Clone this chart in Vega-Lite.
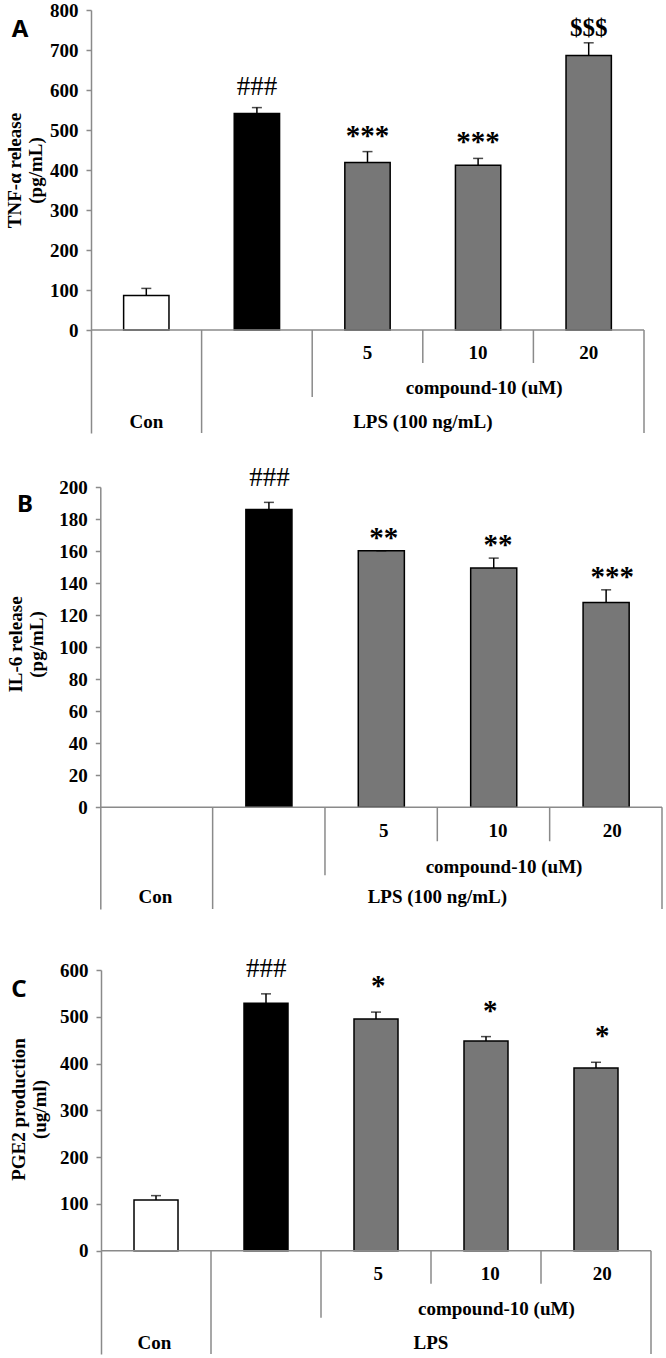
{
  "$schema": "https://vega.github.io/schema/vega-lite/v6.json",
  "padding": {"left": 5, "top": 1, "right": 4, "bottom": 0},
  "background": "white",
  "spacing": 44,
  "config": {
    "view": {"stroke": null},
    "font": "Liberation Serif",
    "axis": {
      "labelFont": "Liberation Serif", "labelFontWeight": "bold", "labelFontSize": 19, "labelColor": "#000",
      "tickColor": "#8a8a8a", "domainColor": "#8a8a8a", "tickWidth": 1.5, "domainWidth": 1.5, "tickSize": 5,
      "labelPadding": 8, "grid": false,
      "titleFont": "Liberation Serif", "titleFontWeight": "bold", "titleFontSize": 19, "titleColor": "#000", "titleLineHeight": 21
    }
  },
  "datasets": {
    "A": [
      {"group": "Con", "value": 86, "upper": 104, "sig": ""},
      {"group": "LPS", "value": 541, "upper": 556, "sig": "###"},
      {"group": "5", "value": 419, "upper": 446, "sig": "***"},
      {"group": "10", "value": 412, "upper": 429, "sig": "***"},
      {"group": "20", "value": 686, "upper": 718, "sig": "$$$"}
    ],
    "B": [
      {"group": "LPS", "value": 186, "upper": 190.4, "sig": "###"},
      {"group": "5", "value": 160.2, "upper": 160.2, "sig": "**"},
      {"group": "10", "value": 149.4, "upper": 155.6, "sig": "**"},
      {"group": "20", "value": 127.9, "upper": 135.8, "sig": "***"}
    ],
    "C": [
      {"group": "Con", "value": 108, "upper": 117.6, "sig": ""},
      {"group": "LPS", "value": 529, "upper": 549, "sig": "###"},
      {"group": "5", "value": 495, "upper": 510, "sig": "*"},
      {"group": "10", "value": 448, "upper": 457.6, "sig": "*"},
      {"group": "20", "value": 390.6, "upper": 402.7, "sig": "*"}
    ]
  },
  "vconcat": [
    {
      "spacing": 30,
      "vconcat": [
        {
          "width": 553, "height": 423,
          "data": {"name": "A"},
          "resolve": {"scale": {"x": "independent"}},
          "layer": [
            {
              "mark": {"type": "bar", "stroke": "#000", "strokeWidth": 1.5},
              "encoding": {
                "x": {"field": "group", "type": "nominal", "sort": null, "scale": {"domain": ["Con", "LPS", "5", "10", "20"], "paddingInner": 0.59, "paddingOuter": 0.295}, "axis": null},
                "y": {"field": "value", "type": "quantitative", "scale": {"domain": [-257.5, 800], "nice": false, "zero": false},
                  "axis": {"values": [0, 100, 200, 300, 400, 500, 600, 700, 800], "title": ["TNF-α release", "(pg/mL)"], "titleY": 160, "titlePadding": 4}},
                "fill": {"field": "group", "type": "nominal", "scale": {"domain": ["Con", "LPS", "5", "10", "20"], "range": ["#ffffff", "#000000", "#777777", "#777777", "#777777"]}, "legend": null}
              }
            },
            {
              "mark": {"type": "rule", "color": "#000", "strokeWidth": 1.5},
              "encoding": {
                "x": {"field": "group", "type": "nominal", "sort": null, "scale": {"domain": ["Con", "LPS", "5", "10", "20"], "paddingInner": 0.59, "paddingOuter": 0.295}, "axis": null},
                "y": {"field": "value", "type": "quantitative"},
                "y2": {"field": "upper"}
              }
            },
            {
              "mark": {"type": "tick", "color": "#000", "size": 10, "thickness": 1.5, "orient": "horizontal"},
              "encoding": {
                "x": {"field": "group", "type": "nominal", "sort": null, "scale": {"domain": ["Con", "LPS", "5", "10", "20"], "paddingInner": 0.59, "paddingOuter": 0.295}, "axis": null},
                "y": {"field": "upper", "type": "quantitative"}
              }
            },
            {
              "data": {"values": [{"boundary": 0, "end": 5}]},
              "mark": {"type": "rule", "color": "#8a8a8a", "strokeWidth": 1.5},
              "encoding": {
                "x": {"field": "boundary", "type": "quantitative", "scale": {"domain": [0, 5], "nice": false, "zero": false}, "axis": null},
                "x2": {"field": "end"},
                "y": {"datum": 0}
              }
            },
            {
              "data": {"values": [{"boundary": 1}, {"boundary": 5}]},
              "mark": {"type": "rule", "color": "#8a8a8a", "strokeWidth": 1.5},
              "encoding": {
                "x": {"field": "boundary", "type": "quantitative", "scale": {"domain": [0, 5], "nice": false, "zero": false}, "axis": null},
                "y": {"datum": 0}, "y2": {"datum": -257.5}
              }
            },
            {
              "data": {"values": [{"boundary": 2}]},
              "mark": {"type": "rule", "color": "#8a8a8a", "strokeWidth": 1.5},
              "encoding": {
                "x": {"field": "boundary", "type": "quantitative", "scale": {"domain": [0, 5], "nice": false, "zero": false}, "axis": null},
                "y": {"datum": 0}, "y2": {"datum": -167.5}
              }
            },
            {
              "data": {"values": [{"boundary": 3}, {"boundary": 4}]},
              "mark": {"type": "rule", "color": "#8a8a8a", "strokeWidth": 1.5},
              "encoding": {
                "x": {"field": "boundary", "type": "quantitative", "scale": {"domain": [0, 5], "nice": false, "zero": false}, "axis": null},
                "y": {"datum": 0}, "y2": {"datum": -82.5}
              }
            },
            {
              "data": {"values": [{"group": "5"}, {"group": "10"}, {"group": "20"}]},
              "mark": {"type": "text", "fontWeight": "bold", "fontSize": 19, "baseline": "middle"},
              "encoding": {
                "x": {"field": "group", "type": "nominal", "sort": null, "scale": {"domain": ["Con", "LPS", "5", "10", "20"], "paddingInner": 0.59, "paddingOuter": 0.295}, "axis": null},
                "y": {"datum": -57.5},
                "text": {"field": "group"}
              }
            },
            {
              "data": {"values": [{"group": "10", "label": "compound-10 (uM)"}]},
              "mark": {"type": "text", "fontWeight": "bold", "fontSize": 19, "baseline": "middle", "dx": 6, "letterSpacing": 1},
              "encoding": {
                "x": {"field": "group", "type": "nominal", "sort": null, "scale": {"domain": ["Con", "LPS", "5", "10", "20"], "paddingInner": 0.59, "paddingOuter": 0.295}, "axis": null},
                "y": {"datum": -145},
                "text": {"field": "label"}
              }
            },
            {
              "data": {"values": [{"group": "Con"}]},
              "mark": {"type": "text", "fontWeight": "bold", "fontSize": 19, "baseline": "middle"},
              "encoding": {
                "x": {"field": "group", "type": "nominal", "sort": null, "scale": {"domain": ["Con", "LPS", "5", "10", "20"], "paddingInner": 0.59, "paddingOuter": 0.295}, "axis": null},
                "y": {"datum": -230},
                "text": {"field": "group"}
              }
            },
            {
              "data": {"values": [{"label": "LPS (100 ng/mL)"}]},
              "mark": {"type": "text", "fontWeight": "bold", "fontSize": 19, "baseline": "middle", "letterSpacing": 0.5},
              "encoding": {
                "x": {"datum": 3, "type": "quantitative", "scale": {"domain": [0, 5], "nice": false, "zero": false}, "axis": null},
                "y": {"datum": -230},
                "text": {"field": "label"}
              }
            },
            {
              "data": {"values": [{"label": "A"}]},
              "mark": {"type": "text", "font": "Noto Sans", "fontWeight": "bold", "fontSize": 24, "baseline": "middle"},
              "encoding": {
                "x": {"datum": -0.642, "type": "quantitative", "scale": {"domain": [0, 5], "nice": false, "zero": false}, "axis": null},
                "y": {"datum": 751},
                "text": {"field": "label"}
              }
            },
            {
              "transform": [{"filter": {"field": "sig", "equal": "###"}}],
              "mark": {"type": "text", "fontSize": 27, "baseline": "alphabetic", "dy": -13},
              "encoding": {
                "x": {"field": "group", "type": "nominal", "sort": null, "scale": {"domain": ["Con", "LPS", "5", "10", "20"], "paddingInner": 0.59, "paddingOuter": 0.295}, "axis": null},
                "y": {"field": "upper", "type": "quantitative"},
                "text": {"field": "sig"}
              }
            },
            {
              "transform": [{"filter": {"field": "sig", "equal": "$$$"}}],
              "mark": {"type": "text", "fontSize": 25, "fontWeight": "bold", "baseline": "alphabetic", "dy": -7},
              "encoding": {
                "x": {"field": "group", "type": "nominal", "sort": null, "scale": {"domain": ["Con", "LPS", "5", "10", "20"], "paddingInner": 0.59, "paddingOuter": 0.295}, "axis": null},
                "y": {"field": "upper", "type": "quantitative"},
                "text": {"field": "sig"}
              }
            },
            {
              "transform": [{"filter": {"field": "sig", "oneOf": ["*", "**", "***"]}}],
              "mark": {"type": "text", "fontSize": 29, "fontWeight": "bold", "baseline": "alphabetic", "dy": -7, "letterSpacing": 1.5},
              "encoding": {
                "x": {"field": "group", "type": "nominal", "sort": null, "scale": {"domain": ["Con", "LPS", "5", "10", "20"], "paddingInner": 0.59, "paddingOuter": 0.295}, "axis": null},
                "y": {"field": "upper", "type": "quantitative"},
                "text": {"field": "sig"}
              }
            }
          ]
        },
        {
          "width": 571, "height": 422,
          "data": {"name": "B"},
          "resolve": {"scale": {"x": "independent"}},
          "layer": [
            {
              "mark": {"type": "bar", "stroke": "#000", "strokeWidth": 1.5},
              "encoding": {
                "x": {"field": "group", "type": "nominal", "sort": null, "scale": {"domain": ["Con", "LPS", "5", "10", "20"], "paddingInner": 0.59, "paddingOuter": 0.335, "align": 0.564}, "axis": null},
                "y": {"field": "value", "type": "quantitative", "scale": {"domain": [-63.5, 200], "nice": false, "zero": false},
                  "axis": {"values": [0, 20, 40, 60, 80, 100, 120, 140, 160, 180, 200], "title": ["IL-6 release", "(pg/mL)"], "titleY": 157, "titlePadding": 12, "offset": -9.3}},
                "fill": {"field": "group", "type": "nominal", "scale": {"domain": ["Con", "LPS", "5", "10", "20"], "range": ["#ffffff", "#000000", "#777777", "#777777", "#777777"]}, "legend": null}
              }
            },
            {
              "mark": {"type": "rule", "color": "#000", "strokeWidth": 1.5},
              "encoding": {
                "x": {"field": "group", "type": "nominal", "sort": null, "scale": {"domain": ["Con", "LPS", "5", "10", "20"], "paddingInner": 0.59, "paddingOuter": 0.335, "align": 0.564}, "axis": null},
                "y": {"field": "value", "type": "quantitative"},
                "y2": {"field": "upper"}
              }
            },
            {
              "mark": {"type": "tick", "color": "#000", "size": 10, "thickness": 1.5, "orient": "horizontal"},
              "encoding": {
                "x": {"field": "group", "type": "nominal", "sort": null, "scale": {"domain": ["Con", "LPS", "5", "10", "20"], "paddingInner": 0.59, "paddingOuter": 0.335, "align": 0.564}, "axis": null},
                "y": {"field": "upper", "type": "quantitative"}
              }
            },
            {
              "data": {"values": [{"boundary": 0, "end": 5}]},
              "mark": {"type": "rule", "color": "#8a8a8a", "strokeWidth": 1.5},
              "encoding": {
                "x": {"field": "boundary", "type": "quantitative", "scale": {"domain": [-0.0827, 5], "nice": false, "zero": false}, "axis": null},
                "x2": {"field": "end"},
                "y": {"datum": 0}
              }
            },
            {
              "data": {"values": [{"boundary": 1}, {"boundary": 5}]},
              "mark": {"type": "rule", "color": "#8a8a8a", "strokeWidth": 1.5},
              "encoding": {
                "x": {"field": "boundary", "type": "quantitative", "scale": {"domain": [-0.0827, 5], "nice": false, "zero": false}, "axis": null},
                "y": {"datum": 0}, "y2": {"datum": -63.5}
              }
            },
            {
              "data": {"values": [{"boundary": 2}]},
              "mark": {"type": "rule", "color": "#8a8a8a", "strokeWidth": 1.5},
              "encoding": {
                "x": {"field": "boundary", "type": "quantitative", "scale": {"domain": [-0.0827, 5], "nice": false, "zero": false}, "axis": null},
                "y": {"datum": 0}, "y2": {"datum": -42.5}
              }
            },
            {
              "data": {"values": [{"boundary": 3}, {"boundary": 4}]},
              "mark": {"type": "rule", "color": "#8a8a8a", "strokeWidth": 1.5},
              "encoding": {
                "x": {"field": "boundary", "type": "quantitative", "scale": {"domain": [-0.0827, 5], "nice": false, "zero": false}, "axis": null},
                "y": {"datum": 0}, "y2": {"datum": -21.2}
              }
            },
            {
              "data": {"values": [{"group": "5"}, {"group": "10"}, {"group": "20"}]},
              "mark": {"type": "text", "fontWeight": "bold", "fontSize": 19, "baseline": "middle"},
              "encoding": {
                "x": {"field": "group", "type": "nominal", "sort": null, "scale": {"domain": ["Con", "LPS", "5", "10", "20"], "paddingInner": 0.59, "paddingOuter": 0.335, "align": 0.564}, "axis": null},
                "y": {"datum": -14.6},
                "text": {"field": "group"}
              }
            },
            {
              "data": {"values": [{"group": "10", "label": "compound-10 (uM)"}]},
              "mark": {"type": "text", "fontWeight": "bold", "fontSize": 19, "baseline": "middle", "dx": 6, "letterSpacing": 1},
              "encoding": {
                "x": {"field": "group", "type": "nominal", "sort": null, "scale": {"domain": ["Con", "LPS", "5", "10", "20"], "paddingInner": 0.59, "paddingOuter": 0.335, "align": 0.564}, "axis": null},
                "y": {"datum": -37.3},
                "text": {"field": "label"}
              }
            },
            {
              "data": {"values": [{"group": "Con"}]},
              "mark": {"type": "text", "fontWeight": "bold", "fontSize": 19, "baseline": "middle"},
              "encoding": {
                "x": {"field": "group", "type": "nominal", "sort": null, "scale": {"domain": ["Con", "LPS", "5", "10", "20"], "paddingInner": 0.59, "paddingOuter": 0.335, "align": 0.564}, "axis": null},
                "y": {"datum": -56.2},
                "text": {"field": "group"}
              }
            },
            {
              "data": {"values": [{"label": "LPS (100 ng/mL)"}]},
              "mark": {"type": "text", "fontWeight": "bold", "fontSize": 19, "baseline": "middle", "letterSpacing": 0.5},
              "encoding": {
                "x": {"datum": 3, "type": "quantitative", "scale": {"domain": [-0.0827, 5], "nice": false, "zero": false}, "axis": null},
                "y": {"datum": -56.2},
                "text": {"field": "label"}
              }
            },
            {
              "data": {"values": [{"label": "B"}]},
              "mark": {"type": "text", "font": "Noto Sans", "fontWeight": "bold", "fontSize": 24, "baseline": "middle"},
              "encoding": {
                "x": {"datum": -0.67, "type": "quantitative", "scale": {"domain": [-0.0827, 5], "nice": false, "zero": false}, "axis": null},
                "y": {"datum": 188.75},
                "text": {"field": "label"}
              }
            },
            {
              "transform": [{"filter": {"field": "sig", "equal": "###"}}],
              "mark": {"type": "text", "fontSize": 27, "baseline": "alphabetic", "dy": -16},
              "encoding": {
                "x": {"field": "group", "type": "nominal", "sort": null, "scale": {"domain": ["Con", "LPS", "5", "10", "20"], "paddingInner": 0.59, "paddingOuter": 0.335, "align": 0.564}, "axis": null},
                "y": {"field": "upper", "type": "quantitative"},
                "text": {"field": "sig"}
              }
            },
            {
              "transform": [{"filter": {"field": "sig", "oneOf": ["*", "**", "***"]}}],
              "mark": {"type": "text", "fontSize": 29, "fontWeight": "bold", "baseline": "alphabetic", "dy": -4, "letterSpacing": 1.5},
              "encoding": {
                "x": {"field": "group", "type": "nominal", "sort": null, "scale": {"domain": ["Con", "LPS", "5", "10", "20"], "paddingInner": 0.59, "paddingOuter": 0.335, "align": 0.564}, "axis": null},
                "y": {"field": "upper", "type": "quantitative"},
                "text": {"field": "sig"}
              }
            }
          ]
        }
      ]
    },
    {
      "width": 560, "height": 384,
      "data": {"name": "C"},
      "resolve": {"scale": {"x": "independent"}},
      "layer": [
        {
          "mark": {"type": "bar", "stroke": "#000", "strokeWidth": 1.5},
          "encoding": {
            "x": {"field": "group", "type": "nominal", "sort": null, "scale": {"domain": ["Con", "LPS", "5", "10", "20"], "paddingInner": 0.6, "paddingOuter": 0.3455, "align": 0.5658}, "axis": null},
            "y": {"field": "value", "type": "quantitative", "scale": {"domain": [-221, 600], "nice": false, "zero": false},
              "axis": {"values": [0, 100, 200, 300, 400, 500, 600], "title": ["PGE2 production", "(ug/ml)"], "titleY": 139, "titlePadding": 10, "offset": -10}},
            "fill": {"field": "group", "type": "nominal", "scale": {"domain": ["Con", "LPS", "5", "10", "20"], "range": ["#ffffff", "#000000", "#777777", "#777777", "#777777"]}, "legend": null}
          }
        },
        {
          "mark": {"type": "rule", "color": "#000", "strokeWidth": 1.5},
          "encoding": {
            "x": {"field": "group", "type": "nominal", "sort": null, "scale": {"domain": ["Con", "LPS", "5", "10", "20"], "paddingInner": 0.6, "paddingOuter": 0.3455, "align": 0.5658}, "axis": null},
            "y": {"field": "value", "type": "quantitative"},
            "y2": {"field": "upper"}
          }
        },
        {
          "mark": {"type": "tick", "color": "#000", "size": 10, "thickness": 1.5, "orient": "horizontal"},
          "encoding": {
            "x": {"field": "group", "type": "nominal", "sort": null, "scale": {"domain": ["Con", "LPS", "5", "10", "20"], "paddingInner": 0.6, "paddingOuter": 0.3455, "align": 0.5658}, "axis": null},
            "y": {"field": "upper", "type": "quantitative"}
          }
        },
        {
          "data": {"values": [{"boundary": 0, "end": 5}]},
          "mark": {"type": "rule", "color": "#8a8a8a", "strokeWidth": 1.5},
          "encoding": {
            "x": {"field": "boundary", "type": "quantitative", "scale": {"domain": [-0.0909, 5], "nice": false, "zero": false}, "axis": null},
            "x2": {"field": "end"},
            "y": {"datum": 0}
          }
        },
        {
          "data": {"values": [{"boundary": 1}, {"boundary": 5}]},
          "mark": {"type": "rule", "color": "#8a8a8a", "strokeWidth": 1.5},
          "encoding": {
            "x": {"field": "boundary", "type": "quantitative", "scale": {"domain": [-0.0909, 5], "nice": false, "zero": false}, "axis": null},
            "y": {"datum": 0}, "y2": {"datum": -221}
          }
        },
        {
          "data": {"values": [{"boundary": 2}]},
          "mark": {"type": "rule", "color": "#8a8a8a", "strokeWidth": 1.5},
          "encoding": {
            "x": {"field": "boundary", "type": "quantitative", "scale": {"domain": [-0.0909, 5], "nice": false, "zero": false}, "axis": null},
            "y": {"datum": 0}, "y2": {"datum": -143.3}
          }
        },
        {
          "data": {"values": [{"boundary": 3}, {"boundary": 4}]},
          "mark": {"type": "rule", "color": "#8a8a8a", "strokeWidth": 1.5},
          "encoding": {
            "x": {"field": "boundary", "type": "quantitative", "scale": {"domain": [-0.0909, 5], "nice": false, "zero": false}, "axis": null},
            "y": {"datum": 0}, "y2": {"datum": -70.6}
          }
        },
        {
          "data": {"values": [{"group": "5"}, {"group": "10"}, {"group": "20"}]},
          "mark": {"type": "text", "fontWeight": "bold", "fontSize": 19, "baseline": "middle"},
          "encoding": {
            "x": {"field": "group", "type": "nominal", "sort": null, "scale": {"domain": ["Con", "LPS", "5", "10", "20"], "paddingInner": 0.6, "paddingOuter": 0.3455, "align": 0.5658}, "axis": null},
            "y": {"datum": -49.2},
            "text": {"field": "group"}
          }
        },
        {
          "data": {"values": [{"group": "10", "label": "compound-10 (uM)"}]},
          "mark": {"type": "text", "fontWeight": "bold", "fontSize": 19, "baseline": "middle", "dx": 6, "letterSpacing": 1},
          "encoding": {
            "x": {"field": "group", "type": "nominal", "sort": null, "scale": {"domain": ["Con", "LPS", "5", "10", "20"], "paddingInner": 0.6, "paddingOuter": 0.3455, "align": 0.5658}, "axis": null},
            "y": {"datum": -124},
            "text": {"field": "label"}
          }
        },
        {
          "data": {"values": [{"group": "Con"}]},
          "mark": {"type": "text", "fontWeight": "bold", "fontSize": 19, "baseline": "middle"},
          "encoding": {
            "x": {"field": "group", "type": "nominal", "sort": null, "scale": {"domain": ["Con", "LPS", "5", "10", "20"], "paddingInner": 0.6, "paddingOuter": 0.3455, "align": 0.5658}, "axis": null},
            "y": {"datum": -196.7},
            "text": {"field": "group"}
          }
        },
        {
          "data": {"values": [{"label": "LPS"}]},
          "mark": {"type": "text", "fontWeight": "bold", "fontSize": 19, "baseline": "middle", "letterSpacing": 0.5},
          "encoding": {
            "x": {"datum": 3, "type": "quantitative", "scale": {"domain": [-0.0909, 5], "nice": false, "zero": false}, "axis": null},
            "y": {"datum": -196.7},
            "text": {"field": "label"}
          }
        },
        {
          "data": {"values": [{"label": "C"}]},
          "mark": {"type": "text", "font": "Noto Sans", "fontWeight": "bold", "fontSize": 24, "baseline": "middle"},
          "encoding": {
            "x": {"datum": -0.745, "type": "quantitative", "scale": {"domain": [-0.0909, 5], "nice": false, "zero": false}, "axis": null},
            "y": {"datum": 557.2},
            "text": {"field": "label"}
          }
        },
        {
          "transform": [{"filter": {"field": "sig", "equal": "###"}}],
          "mark": {"type": "text", "fontSize": 27, "baseline": "alphabetic", "dy": -17},
          "encoding": {
            "x": {"field": "group", "type": "nominal", "sort": null, "scale": {"domain": ["Con", "LPS", "5", "10", "20"], "paddingInner": 0.6, "paddingOuter": 0.3455, "align": 0.5658}, "axis": null},
            "y": {"field": "upper", "type": "quantitative"},
            "text": {"field": "sig"}
          }
        },
        {
          "transform": [{"filter": {"field": "sig", "oneOf": ["*", "**", "***"]}}],
          "mark": {"type": "text", "fontSize": 29, "fontWeight": "bold", "baseline": "alphabetic", "dy": -17, "letterSpacing": 1.5},
          "encoding": {
            "x": {"field": "group", "type": "nominal", "sort": null, "scale": {"domain": ["Con", "LPS", "5", "10", "20"], "paddingInner": 0.6, "paddingOuter": 0.3455, "align": 0.5658}, "axis": null},
            "y": {"field": "upper", "type": "quantitative"},
            "text": {"field": "sig"}
          }
        }
      ]
    }
  ]
}
